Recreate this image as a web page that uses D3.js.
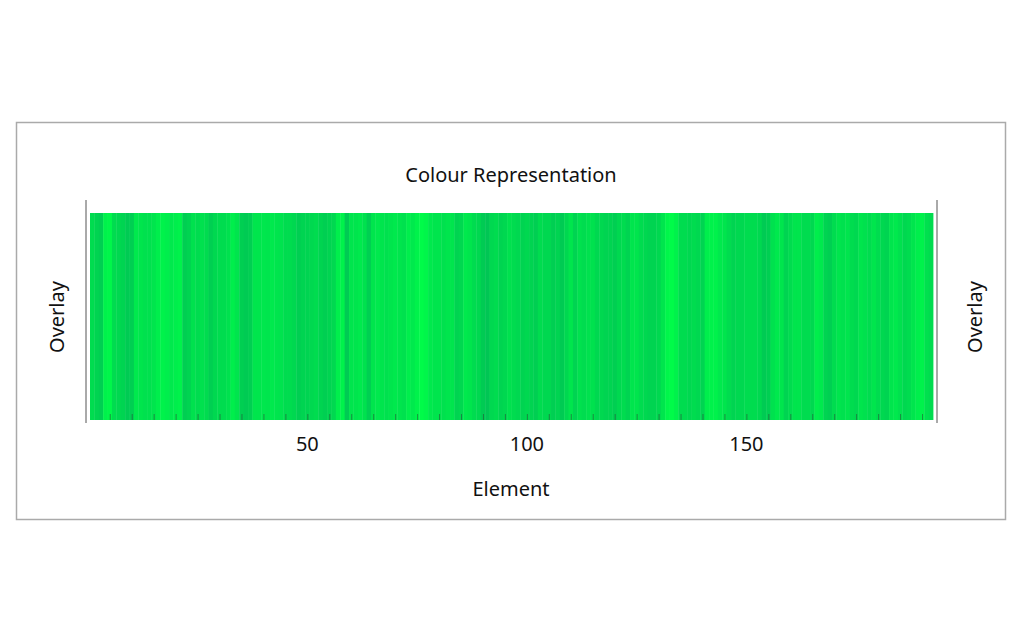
<!DOCTYPE html>
<html><head><meta charset="utf-8">
<script src="https://cdn.jsdelivr.net/npm/d3@7"></script>
<style>body{margin:0;background:#fff}text{font-family:"Noto Sans","Open Sans",sans-serif;fill:#111}</style>
</head><body><svg id="c" width="1024" height="640"></svg>
<script>
const title = "Colour Representation";
const xLabel = "Element";
const sideLabel = "Overlay";
const tickValues = [50, 100, 150];
const values = [
0.6,0.5,0.45,0.85,0.9,0.6,0.55,0.5,0.4,0.45,0.75,0.7,0.65,0.65,0.7,0.8,0.85,0.8,0.75,0.8,0.85,0.45,0.5,0.65,0.6,0.65,0.6,0.45,0.55,0.6,0.6,0.65,0.8,0.7,0.45,0.4,0.45,0.7,0.7,0.72,0.7,0.75,0.7,0.68,0.6,0.6,0.55,0.45,0.5,0.5,
0.55,0.6,0.5,0.45,0.5,0.55,0.8,0.85,0.4,0.7,0.7,0.75,0.65,0.45,0.7,0.75,0.7,0.65,0.7,0.75,0.7,0.65,0.8,0.75,0.85,0.95,0.9,0.75,0.7,0.7,0.65,0.7,0.7,0.5,0.55,0.75,0.7,0.6,0.55,0.4,0.35,0.55,0.6,0.5,0.55,0.65,0.6,0.55,0.5,0.55,
0.5,0.45,0.6,0.55,0.55,0.45,0.5,0.4,0.55,0.7,0.5,0.65,0.6,0.65,0.65,0.55,0.55,0.5,0.5,0.45,0.55,0.6,0.5,0.7,0.7,0.6,0.55,0.5,0.5,0.55,0.7,0.9,0.95,0.85,0.6,0.6,0.55,0.6,0.55,0.5,0.8,0.85,0.85,0.75,0.7,0.6,0.5,0.55,0.55,0.6,
0.6,0.6,0.55,0.4,0.45,0.65,0.75,0.7,0.5,0.6,0.7,0.7,0.6,0.6,0.55,0.8,0.75,0.5,0.45,0.6,0.7,0.65,0.7,0.6,0.55,0.7,0.65,0.6,0.7,0.6,0.55,0.5,0.7,0.75,0.65,0.55,0.6,0.7,0.8,0.85,0.65,0.6];
const elements = values.map((v,i)=>i+1);

const svg = d3.select("#c");
svg.append("rect").attr("x",16.5).attr("y",122.5).attr("width",989).attr("height",397)
  .attr("fill","#fff").attr("stroke","#aaa").attr("stroke-width",1.5);
const x = d3.scaleLinear().domain([0.5, elements.length+0.5]).range([90,933]);
const col = d3.scaleLinear().domain([0,1]).range(["#00a85a","#00ff48"]);
const y0=213, y1=420;
svg.append("g").selectAll("rect").data(values).join("rect")
  .attr("x",(d,i)=>x(elements[i]-0.5)).attr("width",(d,i)=>x(elements[i]+0.5)-x(elements[i]-0.5)+0.4)
  .attr("y",y0).attr("height",y1-y0).attr("fill",d=>col(d));
const ax = svg.append("g").attr("transform",`translate(0,${y1})`)
  .call(d3.axisBottom(x).tickValues(d3.range(5,elements.length+1,5)).tickSize(-6).tickFormat(""));
ax.select(".domain").remove(); ax.selectAll("line").attr("stroke","#333").attr("stroke-opacity",0.5);
svg.append("g").selectAll("text").data(tickValues).join("text")
  .attr("x",d=>x(d)).attr("y",451).attr("text-anchor","middle").attr("font-size",20).text(d=>d);
[86,937].forEach(px=>svg.append("line").attr("x1",px).attr("x2",px).attr("y1",200).attr("y2",423).attr("stroke","#555"));
svg.append("text").attr("x",511).attr("y",182).attr("text-anchor","middle").attr("font-size",20).text(title);
svg.append("text").attr("x",511).attr("y",496).attr("text-anchor","middle").attr("font-size",20).text(xLabel);
[[64,317],[982,317]].forEach(([px,py])=>svg.append("text").attr("transform",`translate(${px},${py}) rotate(-90)`)
  .attr("text-anchor","middle").attr("font-size",20).text(sideLabel));
</script></body></html>
